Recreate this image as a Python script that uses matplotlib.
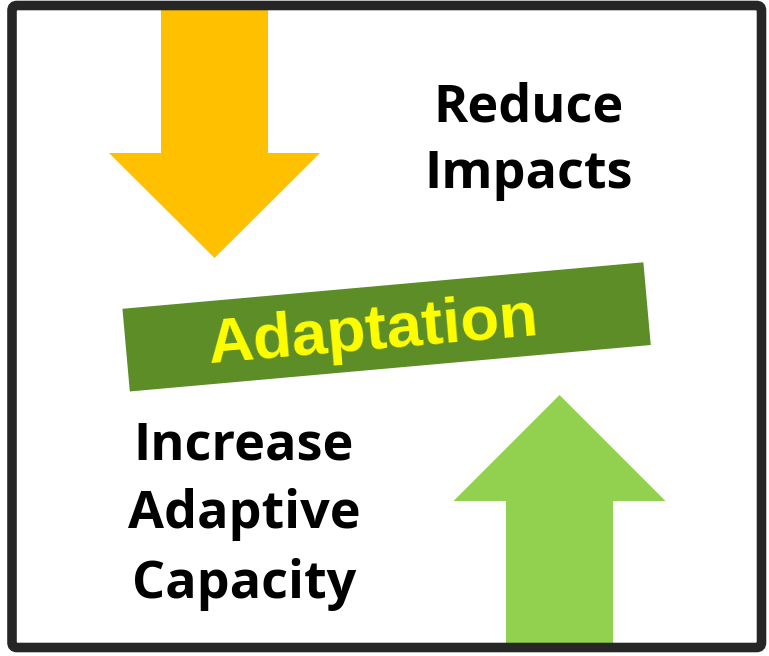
import numpy as np
import matplotlib
matplotlib.use("Agg")
import matplotlib.pyplot as plt
from matplotlib.patches import Polygon, FancyBboxPatch

W, H = 769, 656

# Content
top_label = ["Reduce", "Impacts"]
bottom_label = ["Increase", "Adaptive", "Capacity"]
center_label = "Adaptation"

colors = {
    "down_arrow": "#FFC000",
    "up_arrow": "#92D050",
    "bar": "#5C8D27",
    "bar_text": "#FFFF00",
    "border": "#262626",
    "text": "#000000",
}

fig = plt.figure(figsize=(W / 100, H / 100), dpi=100)
ax = fig.add_axes([0, 0, 1, 1])
ax.set_xlim(0, W)
ax.set_ylim(H, 0)
ax.axis("off")


def arrow(cx, shaft_w, head_w, y_start, y_head, y_tip):
    pts = [
        (cx - shaft_w / 2, y_start),
        (cx + shaft_w / 2, y_start),
        (cx + shaft_w / 2, y_head),
        (cx + head_w / 2, y_head),
        (cx, y_tip),
        (cx - head_w / 2, y_head),
        (cx - shaft_w / 2, y_head),
    ]
    return Polygon(pts, closed=True, lw=0)


# Down arrow (yellow)
p = arrow(214.5, 107, 211, 8, 153, 258)
p.set_facecolor(colors["down_arrow"])
ax.add_patch(p)

# Up arrow (green)
p = arrow(559.5, 107, 212, 648, 501, 395)
p.set_facecolor(colors["up_arrow"])
ax.add_patch(p)

# Rotated bar
cx, cy, L, Hb, ang = 386.6, 326.9, 523, 83, 5.1
a = np.deg2rad(ang)
u = np.array([np.cos(a), -np.sin(a)])
v = np.array([np.sin(a), np.cos(a)])
c = np.array([cx, cy])
corners = [c - L / 2 * u - Hb / 2 * v, c + L / 2 * u - Hb / 2 * v,
           c + L / 2 * u + Hb / 2 * v, c - L / 2 * u + Hb / 2 * v]
ax.add_patch(Polygon(corners, closed=True, facecolor=colors["bar"], lw=0))

ax.text(374.5, 349, center_label, rotation=4.9, rotation_mode="anchor",
        ha="center", va="baseline", color=colors["bar_text"],
        fontsize=45.7, fontweight="bold", family="Liberation Sans")

# Labels
for txt, yb in zip(top_label, [122, 188]):
    ax.text(529, yb, txt, ha="center", va="baseline", fontsize=37.5,
            fontweight="bold", family="Open Sans", color=colors["text"])
for txt, yb in zip(bottom_label, [460, 528, 598]):
    ax.text(244, yb, txt, ha="center", va="baseline", fontsize=37.5,
            fontweight="bold", family="Open Sans", color=colors["text"])

# Border
ax.add_patch(FancyBboxPatch((12, 5.5), 749.5, 642,
                            boxstyle="round,pad=0,rounding_size=5",
                            facecolor="none", edgecolor=colors["border"],
                            lw=6.9))

fig.savefig("out.png", dpi=100)
